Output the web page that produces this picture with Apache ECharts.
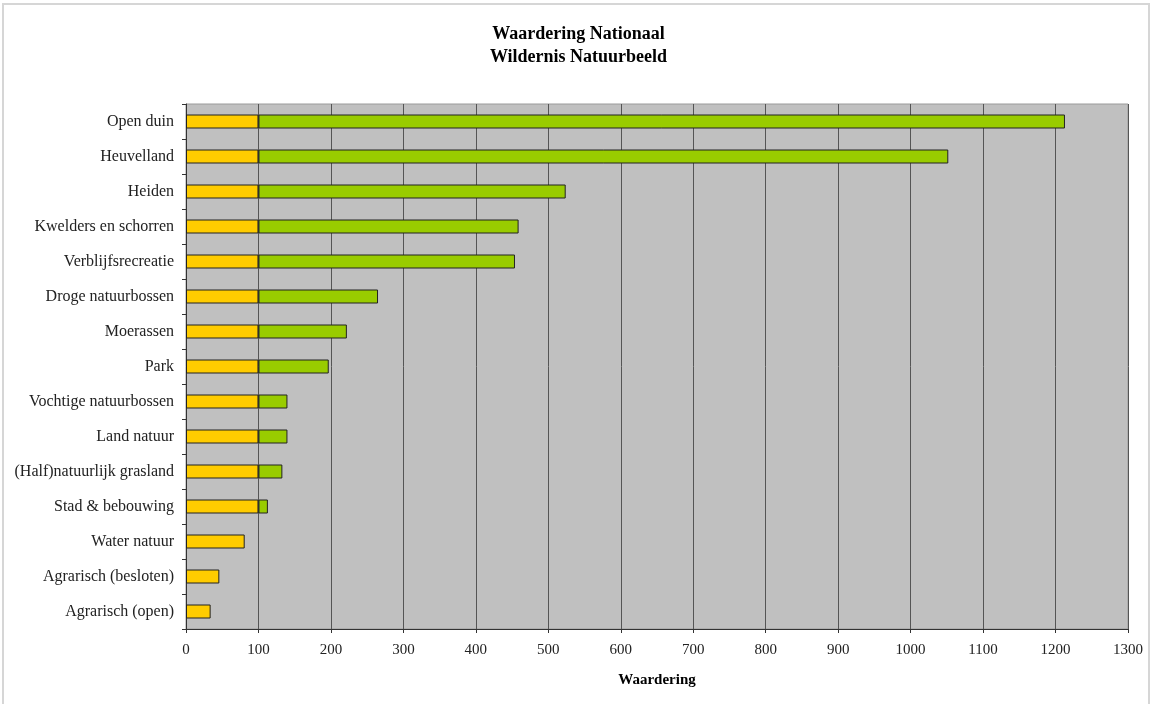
<!DOCTYPE html>
<html>
<head>
<meta charset="utf-8">
<script src="https://cdn.jsdelivr.net/npm/echarts@6/dist/echarts.min.js"></script>
<style>
  html, body { margin: 0; padding: 0; background: #fff; }
  #frame { position: absolute; left: 2px; top: 3px; width: 1148px; height: 710px; border: 2px solid #d6d6d6; box-sizing: border-box; }
  #chart { position: absolute; left: 0; top: 0; width: 1157px; height: 704px; }
</style>
</head>
<body>
<div id="frame"></div>
<div id="chart"></div>
<script>
// Landscape types, top to bottom
const categories = [
  'Open duin', 'Heuvelland', 'Heiden', 'Kwelders en schorren', 'Verblijfsrecreatie',
  'Droge natuurbossen', 'Moerassen', 'Park', 'Vochtige natuurbossen', 'Land natuur',
  '(Half)natuurlijk grasland', 'Stad & bebouwing', 'Water natuur',
  'Agrarisch (besloten)', 'Agrarisch (open)'
];
// Part of the score up to 100 (yellow)
const baseValues = [100, 100, 100, 100, 100, 100, 100, 100, 100, 100, 100, 100, 81, 46, 34];
// Part of the score above 100 (green)
const extraValues = [1113, 952, 424, 359, 354, 165, 122, 97, 40, 40, 33, 13, 0, 0, 0];
// Value axis ticks
const xTicks = [0, 100, 200, 300, 400, 500, 600, 700, 800, 900, 1000, 1100, 1200, 1300];

const serif = '"Liberation Serif", "Times New Roman", serif';
const chart = echarts.init(document.getElementById('chart'), null, { renderer: 'canvas' });

chart.setOption({
  animation: false,
  title: {
    text: 'Waardering Nationaal\nWildernis Natuurbeeld',
    left: 'center',
    top: 18,
    textStyle: { fontFamily: serif, fontWeight: 'bold', fontSize: 18, lineHeight: 23, color: '#000' }
  },
  grid: {
    left: 186, right: 29, top: 104, bottom: 75,
    show: true, backgroundColor: '#c0c0c0', borderColor: '#9a9a9a', borderWidth: 1
  },
  xAxis: {
    type: 'value',
    min: xTicks[0],
    max: xTicks[xTicks.length - 1],
    interval: 100,
    name: 'Waardering',
    nameLocation: 'middle',
    nameGap: 44,
    nameTextStyle: { fontFamily: serif, fontWeight: 'bold', fontSize: 15, color: '#000' },
    axisLine: { show: true, lineStyle: { color: '#333', width: 1 } },
    axisTick: { show: true, length: 4, lineStyle: { color: '#333' } },
    axisLabel: { fontFamily: serif, fontSize: 15, color: '#222', margin: 14, formatter: v => String(v) },
    splitLine: { show: true, lineStyle: { color: '#555', width: 1 } }
  },
  yAxis: {
    type: 'category',
    data: categories,
    inverse: true,
    axisLine: { show: true, lineStyle: { color: '#333', width: 1 } },
    axisTick: { show: true, length: 4, lineStyle: { color: '#333' } },
    axisLabel: { fontFamily: serif, fontSize: 16, color: '#222', margin: 12, padding: [3, 0, 0, 0] },
    splitLine: { show: false }
  },
  series: [
    {
      type: 'bar',
      stack: 'score',
      data: baseValues,
      barWidth: 14,
      itemStyle: { color: '#ffcc00', borderColor: '#222', borderWidth: 1 }
    },
    {
      type: 'bar',
      stack: 'score',
      data: extraValues.map(v => (v > 0 ? v : null)),
      barWidth: 14,
      itemStyle: { color: '#99cc00', borderColor: '#222', borderWidth: 1 }
    }
  ]
});
</script>
</body>
</html>
